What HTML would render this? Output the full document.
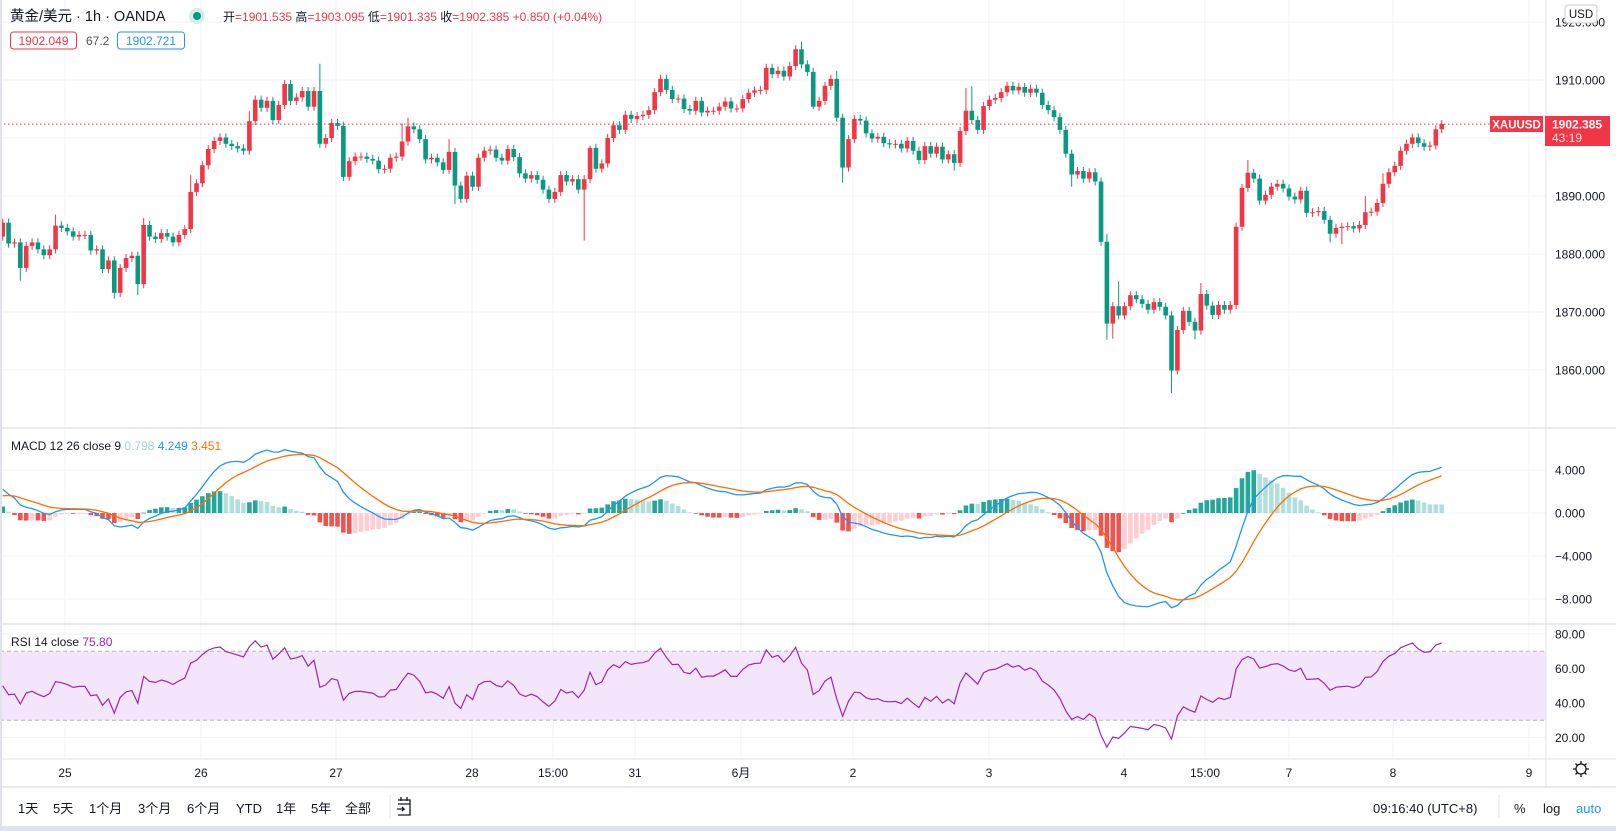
<!DOCTYPE html>
<html><head><meta charset="utf-8"><title>XAUUSD 1h</title>
<style>
html,body{margin:0;padding:0;background:#fff;}
body{width:1616px;height:831px;overflow:hidden;position:relative;font-family:"Liberation Sans","Noto Sans CJK SC",sans-serif;}
svg{position:absolute;left:0;top:0;}
svg text{font-family:"Liberation Sans","Noto Sans CJK SC",sans-serif;}
</style></head>
<body>
<svg id="chart" width="1616" height="831" viewBox="0 0 1616 831">
  <rect x="0" y="0" width="1616" height="831" fill="#ffffff"/>
  <g id="grid"></g>
  <g id="rsiband"></g>
  <g id="candles"></g>
  <g id="macd"></g>
  <g id="rsi"></g>
  <g id="axes"></g>
  <line x1="0" y1="428" x2="1616" y2="428" stroke="#e0e3eb" stroke-width="1.5"/>
  <line x1="0" y1="624" x2="1616" y2="624" stroke="#e0e3eb" stroke-width="1.5"/>
  <line x1="0" y1="759" x2="1616" y2="759" stroke="#e0e3eb" stroke-width="1"/>
  <line x1="1546" y1="0" x2="1546" y2="787" stroke="#e0e3eb" stroke-width="1"/>
  <line x1="0" y1="787" x2="1616" y2="787" stroke="#e0e3eb" stroke-width="1.5"/>
  <rect x="0" y="826" width="1616" height="5" fill="#e0e3eb"/>
  <rect x="0" y="0" width="2" height="826" fill="#e0e3eb"/>

  <text x="10" y="21" font-size="14.5" fill="#131722">黄金/美元 · 1h · OANDA</text>
  <circle cx="197" cy="16" r="8" fill="#d5ece8"/>
  <circle cx="197" cy="16" r="4" fill="#089981"/>
  <text x="223" y="21" font-size="12" fill="#F23645"><tspan fill="#131722">开</tspan>=1901.535 <tspan fill="#131722">高</tspan>=1903.095 <tspan fill="#131722">低</tspan>=1901.335 <tspan fill="#131722">收</tspan>=1902.385 +0.850 (+0.04%)</text>
  <rect x="10.5" y="32" width="66" height="17" rx="3" fill="#fff" stroke="#F23645"/>
  <text x="43.5" y="45" font-size="12" fill="#F23645" text-anchor="middle">1902.049</text>
  <text x="86" y="45" font-size="12" fill="#50535e">67.2</text>
  <rect x="117.5" y="32" width="67" height="17" rx="3" fill="#fff" stroke="#2196F3"/>
  <text x="151" y="45" font-size="12" fill="#2196F3" text-anchor="middle">1902.721</text>

  <text x="11" y="450" font-size="12" fill="#131722">MACD 12 26 close 9 <tspan fill="#9fd6cf">0.798</tspan> <tspan fill="#2196F3">4.249</tspan> <tspan fill="#FF6D00">3.451</tspan></text>
  <text x="11" y="646" font-size="12" fill="#131722">RSI 14 close <tspan fill="#9C27B0">75.80</tspan></text>

  <rect x="1565" y="5" width="32" height="18" rx="3" fill="#fff" stroke="#c8cad0"/>
  <text x="1581" y="18" font-size="11.5" fill="#131722" text-anchor="middle">USD</text>
  <rect x="1490" y="116" width="53" height="16" fill="#F23645"/>
  <text x="1516.5" y="128.5" font-size="11.5" fill="#fff" font-weight="bold" text-anchor="middle">XAUUSD</text>
  <rect x="1545" y="116" width="65" height="30" fill="#F23645"/>
  <text x="1552" y="128.5" font-size="12" fill="#fff" font-weight="bold">1902.385</text>
  <text x="1552" y="142" font-size="12" fill="#fde0e2">43:19</text>

  <g font-size="13" fill="#131722">
    <text x="18" y="813">1天</text>
    <text x="53" y="813">5天</text>
    <text x="89" y="813">1个月</text>
    <text x="138" y="813">3个月</text>
    <text x="187" y="813">6个月</text>
    <text x="236" y="813">YTD</text>
    <text x="276" y="813">1年</text>
    <text x="311" y="813">5年</text>
    <text x="345" y="813">全部</text>
    <line x1="390" y1="795" x2="390" y2="818" stroke="#e0e3eb"/>
    <g stroke="#131722" stroke-width="1.3" fill="none">
      <path d="M398 800 h12 v15 h-12 M398 804 h12 M401 797 v4 M407 797 v4 M397 809 h7 l-2 -2 M404 809 l-2 2"/>
    </g>
    <text x="1373" y="813">09:16:40 (UTC+8)</text>
    <line x1="1499" y1="795" x2="1499" y2="818" stroke="#e0e3eb"/>
    <text x="1514" y="813">%</text>
    <text x="1543" y="813">log</text>
    <text x="1576" y="813" fill="#2196F3">auto</text>
  </g>
  <g stroke="#131722" stroke-width="1.3" fill="none">
    <circle cx="1581" cy="769" r="5"/>
    <path d="M1581 761 v3 M1581 774 v3 M1573 769 h3 M1586 769 h3 M1575.5 763.5 l2 2 M1584.5 772.5 l2 2 M1575.5 774.5 l2 -2 M1584.5 765.5 l2 -2"/>
  </g>
</svg>
<script>
const closes = [
1885.4,1881.8,1882.0,1877.6,1881.4,1882.0,1880.8,1879.8,1880.8,1884.9,
1884.5,1883.9,1883.0,1883.3,1883.3,1880.6,1880.8,1877.4,1878.9,1873.3,
1877.6,1879.3,1879.7,1874.8,1885.0,1883.0,1882.6,1883.6,1883.0,1882.0,
1883.3,1884.3,1890.7,1892.2,1895.3,1898.1,1899.5,1900.1,1899.0,1898.6,
1898.2,1897.8,1902.9,1906.6,1905.2,1906.4,1903.1,1905.7,1909.3,1906.4,
1907.0,1908.1,1905.4,1908.1,1899.0,1900.0,1902.6,1902.1,1893.3,1896.0,
1896.8,1896.8,1896.4,1896.1,1894.6,1894.7,1896.6,1896.8,1899.4,1902.0,
1901.5,1899.8,1896.3,1896.6,1895.8,1894.5,1897.6,1891.8,1889.5,1893.5,
1891.6,1896.6,1897.8,1898.0,1896.6,1896.1,1898.1,1896.7,1893.9,1893.0,
1893.6,1892.8,1891.1,1889.5,1890.7,1893.6,1892.5,1892.9,1891.1,1892.9,
1898.3,1894.7,1895.6,1900.0,1902.2,1901.4,1904.0,1903.3,1903.8,1904.0,
1904.8,1907.9,1910.2,1908.3,1906.7,1906.8,1905.0,1904.7,1906.4,1904.4,
1904.7,1904.7,1905.4,1906.3,1905.1,1905.1,1906.7,1907.8,1908.2,1908.3,
1912.1,1911.0,1911.6,1910.6,1912.4,1915.3,1912.7,1911.4,1905.4,1906.4,
1909.0,1910.2,1903.5,1894.9,1899.8,1903.3,1903.0,1900.8,1899.9,1900.2,
1899.1,1898.9,1899.0,1898.2,1899.5,1897.8,1896.2,1898.6,1897.3,1898.5,
1896.3,1897.2,1895.7,1901.2,1904.7,1903.1,1901.4,1905.5,1906.6,1906.9,
1907.9,1909.0,1908.2,1908.8,1907.8,1908.5,1907.8,1905.7,1904.8,1903.6,
1901.4,1897.3,1893.7,1894.3,1893.0,1894.1,1892.5,1882.1,1868.0,1871.0,
1869.4,1871.0,1872.9,1872.2,1871.4,1870.4,1871.7,1870.9,1869.4,1859.9,
1866.9,1870.2,1868.3,1866.8,1873.1,1871.1,1869.5,1871.2,1870.4,1871.2,
1884.7,1891.4,1894.0,1893.0,1889.2,1890.2,1891.6,1892.1,1891.3,1889.9,
1889.4,1890.9,1887.1,1887.2,1887.4,1885.9,1883.5,1884.5,1884.7,1884.8,
1884.4,1885.0,1887.2,1887.3,1888.8,1892.1,1894.1,1895.2,1897.8,1899.0,
1900.1,1899.1,1898.5,1898.7,1901.5,1902.4
];
const firstOpen = 1883.0;
const wickDefault = 0.7;
const highOverrides = [[9,1886.8],[24,1886.2],[32,1893.6],[42,1904.6],[54,1912.8],[68,1902.5],[69,1903.5],[76,1899.8],[100,1898.7],[136,1916.6],[142,1911.6],[164,1908.6],[165,1908.9],[188,1883.5],[190,1875.3],[204,1875.0],[212,1896.2],[232,1890.0],[235,1893.9],[245,1903.1]];
const lowOverrides = [[3,1875.4],[19,1872.3],[23,1872.9],[77,1888.6],[78,1888.8],[99,1882.3],[138,1905.0],[143,1892.3],[162,1894.4],[182,1891.6],[188,1865.2],[189,1865.4],[199,1856.0],[203,1865.3],[226,1882.0],[228,1881.7]];
const macdSeed = 2.2;
const signalSeed = 1.6;
const rsiSeedAvg = 1.2;
const priceTicks = [1920,1910,1900,1890,1880,1870,1860];
const macdTicks = [4,0,-4,-8];
const rsiTicks = [80,60,40,20];
const timeLabels = ["25","26","27","28","15:00","31","6月","2","3","4","15:00","7","8","9"];
const timeLabelX = [65,201,336,472,553,635,741,853,989,1124,1205,1289,1393,1529];

const NS = "http://www.w3.org/2000/svg";
const X0 = 2.7, X1 = 1441.7;
const step = (X1 - X0) / (closes.length - 1);
function xI(i){ return X0 + i*step; }
function yP(p){ return 138 - (p-1900)*5.8; }
function yM(v){ return 513 - v*10.75; }
function yR(v){ return 703 - (v-40)*1.725; }
function el(tag, attrs, parent){ const e=document.createElementNS(NS,tag); for(const k in attrs) e.setAttribute(k,attrs[k]); parent.appendChild(e); return e; }

const grid = document.getElementById('grid');
const axes = document.getElementById('axes');
timeLabelX.forEach((x,k)=>{
  const l = el('line',{x1:x,y1:0,x2:x,y2:759,stroke:'#f0f3fa','stroke-width':1},grid);
  
  
  const t = el('text',{x:x,y:777,'font-size':12,fill:'#131722','text-anchor':'middle'},axes);
  t.textContent = timeLabels[k];
  
  
});
priceTicks.forEach(p=>{
  const y=yP(p);
  const l = el('line',{x1:0,y1:y,x2:1546,y2:y,stroke:'#f0f3fa','stroke-width':1},grid);
  
  
  const t = el('text',{x:1555,y:y+4.5,'font-size':12,fill:'#131722'},axes);
  t.textContent = p.toFixed(3);
  
  
});
macdTicks.forEach(v=>{
  const y=yM(v);
  const l = el('line',{x1:0,y1:y,x2:1546,y2:y,stroke:'#f0f3fa','stroke-width':1},grid);
  
  
  const t = el('text',{x:1555,y:y+4.5,'font-size':12,fill:'#131722'},axes);
  t.textContent = (v<0?'−':'')+Math.abs(v).toFixed(3);
  
  
});
rsiTicks.forEach(v=>{
  const y=yR(v);
  const l = el('line',{x1:0,y1:y,x2:1546,y2:y,stroke:'#f0f3fa','stroke-width':1},grid);
  
  
  const t = el('text',{x:1555,y:y+4.5,'font-size':12,fill:'#131722'},axes);
  t.textContent = v.toFixed(2);
  
  
});

const band = document.getElementById('rsiband');
const bandRect = el('rect',{x:0,y:yR(70),width:1546,height:yR(30)-yR(70),fill:'#f3e5fc'},band);


[70,30].forEach(v=>{
  const l = el('line',{x1:0,y1:yR(v),x2:1546,y2:yR(v),stroke:'#b2b5be','stroke-dasharray':'4 3','stroke-width':1},band);
  
  
});

const cg = document.getElementById('candles');
const hiMap = {}; highOverrides.forEach(a=>hiMap[a[0]]=a[1]);
const loMap = {}; lowOverrides.forEach(a=>loMap[a[0]]=a[1]);
for(let i=0;i<closes.length;i++){
  const o = i===0 ? firstOpen : closes[i-1];
  const c = closes[i];
  const up = c >= o;
  const col = up ? '#F23645' : '#089981';
  const hi = hiMap[i]!==undefined ? hiMap[i] : Math.max(o,c)+wickDefault;
  const lo = loMap[i]!==undefined ? loMap[i] : Math.min(o,c)-wickDefault;
  const x = xI(i);
  const g = el('g',{},cg);
  
  
  el('line',{x1:x,y1:yP(hi),x2:x,y2:yP(lo),stroke:col,'stroke-width':1},g);
  const top = yP(Math.max(o,c)), bot = yP(Math.min(o,c));
  el('rect',{x:x-2.3,y:top,width:4.6,height:Math.max(1,bot-top),fill:col},g);
}
const pl = el('line',{x1:0,y1:yP(closes[closes.length-1]),x2:1490,y2:yP(closes[closes.length-1]),stroke:'#F23645','stroke-dasharray':'1.5 2.5','stroke-width':1},cg);



function ema(arr, n, seed){ const k=2/(n+1); const out=[]; let e=seed; for(let i=0;i<arr.length;i++){ e = i===0?seed:arr[i]*k+e*(1-k); out.push(e);} return out; }
const e12 = ema(closes,12,closes[0]), e26 = ema(closes,26,closes[0]-macdSeed);
const macdLine = closes.map((_,i)=>e12[i]-e26[i]);
const signal = ema(macdLine,9,signalSeed);
const hist = macdLine.map((m,i)=>m-signal[i]);
const mg = document.getElementById('macd');
for(let i=0;i<hist.length;i++){
  const h=hist[i], prev = i>0?hist[i-1]:0;
  let col;
  if(h>=0) col = h>=prev ? '#26A69A' : '#B2DFDB';
  else col = h<prev ? '#EF5350' : '#FFCDD2';
  const y0=yM(0), y1=yM(h);
  const r = el('rect',{x:xI(i)-2.3,y:Math.min(y0,y1),width:4.6,height:Math.max(0.8,Math.abs(y1-y0)),fill:col},mg);
  
  
}
const mPath = el('path',{d:macdLine.map((v,i)=>(i?'L':'M')+xI(i).toFixed(1)+' '+yM(v).toFixed(1)).join(''),fill:'none',stroke:'#2196F3','stroke-width':1.3},mg);


const sPath = el('path',{d:signal.map((v,i)=>(i?'L':'M')+xI(i).toFixed(1)+' '+yM(v).toFixed(1)).join(''),fill:'none',stroke:'#FF6D00','stroke-width':1.3},mg);



const rsi=[50];
let ag=rsiSeedAvg, al=rsiSeedAvg;
for(let i=1;i<closes.length;i++){
  const d=closes[i]-closes[i-1];
  const g=Math.max(d,0), l=Math.max(-d,0);
  ag=(ag*13+g)/14; al=(al*13+l)/14;
  rsi.push(al===0?100:100-100/(1+ag/al));
}
const rg = document.getElementById('rsi');
const rPath = el('path',{d:rsi.map((v,i)=>(i?'L':'M')+xI(i).toFixed(1)+' '+yR(v).toFixed(1)).join(''),fill:'none',stroke:'#9C27B0','stroke-width':1.2},rg);


</script>
</body></html>
